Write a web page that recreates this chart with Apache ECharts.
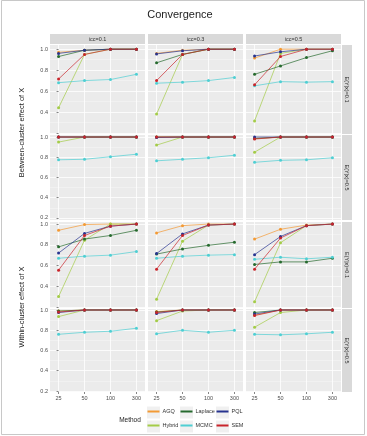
<!DOCTYPE html>
<html><head><meta charset="utf-8">
<script src="https://cdn.jsdelivr.net/npm/echarts@6/dist/echarts.min.js"></script>
<style>html,body{margin:0;padding:0;background:#fff}#c{width:367px;height:436px}</style>
</head><body><div id="c"></div>
<script>
// ---------- data ----------
const sampleSizes = ['25', '50', '100', '300'];
const iccLabels = ['icc=0.1', 'icc=0.3', 'icc=0.5'];
const conditionLabels = ['E(Y|x)=0.1', 'E(Y|x)=0.5'];
const effectLabels = ['Between-cluster effect of X', 'Within-cluster effect of X'];
const methods = ['AGQ', 'Hybrid', 'Laplace', 'MCMC', 'PQL', 'SEM'];
const methodColors = ['#F39A35', '#A4CC48', '#266A2E', '#4FCFD3', '#27338F', '#C9252B'];
const yTicks = [0.2, 0.4, 0.6, 0.8, 1.0];
const yMinorTicks = [0.3, 0.5, 0.7, 0.9];

// each: [icc=0.1, icc=0.3, icc=0.5], values for n = 25, 50, 100, 300
// Between-cluster effect, E(Y|x)=0.1
const AGQ_between01     = [[0.97, 0.99, 1.0, 1.0], [0.96, 0.99, 1.0, 1.0], [0.915, 1.0, 1.0, 1.0]];
const Hybrid_between01  = [[0.44, 0.95, 1.0, 1.0], [0.38, 0.95, 1.0, 1.0], [0.315, 0.96, 1.0, 1.0]];
const Laplace_between01 = [[0.93, 0.99, 1.0, 1.0], [0.87, 0.95, 1.0, 1.0], [0.76, 0.84, 0.92, 0.985]];
const MCMC_between01    = [[0.68, 0.70, 0.71, 0.76], [0.675, 0.685, 0.70, 0.73], [0.65, 0.69, 0.685, 0.69]];
const PQL_between01     = [[0.96, 0.99, 1.0, 1.0], [0.955, 0.985, 1.0, 1.0], [0.935, 0.975, 1.0, 1.0]];
const SEM_between01     = [[0.715, 0.95, 1.0, 1.0], [0.70, 0.95, 1.0, 1.0], [0.66, 0.93, 1.0, 1.0]];
// Between-cluster effect, E(Y|x)=0.5
const AGQ_between05     = [[1.0, 1.0, 1.0, 1.0], [1.0, 1.0, 1.0, 1.0], [0.985, 1.0, 1.0, 1.0]];
const Hybrid_between05  = [[0.95, 1.0, 1.0, 1.0], [0.92, 1.0, 1.0, 1.0], [0.85, 1.0, 1.0, 1.0]];
const Laplace_between05 = [[1.0, 1.0, 1.0, 1.0], [1.0, 1.0, 1.0, 1.0], [0.985, 1.0, 1.0, 1.0]];
const MCMC_between05    = [[0.775, 0.78, 0.805, 0.83], [0.765, 0.78, 0.795, 0.82], [0.75, 0.77, 0.775, 0.795]];
const PQL_between05     = [[1.0, 1.0, 1.0, 1.0], [0.995, 1.0, 1.0, 1.0], [1.0, 1.0, 1.0, 1.0]];
const SEM_between05     = [[1.0, 1.0, 1.0, 1.0], [1.0, 1.0, 1.0, 1.0], [0.98, 1.0, 1.0, 1.0]];
// Within-cluster effect, E(Y|x)=0.1
const AGQ_within01      = [[0.94, 0.995, 1.0, 1.0], [0.915, 0.985, 1.0, 1.0], [0.855, 0.95, 0.99, 1.0]];
const Hybrid_within01   = [[0.30, 0.845, 1.0, 1.0], [0.275, 0.835, 0.99, 1.0], [0.25, 0.82, 0.985, 1.0]];
const Laplace_within01  = [[0.78, 0.855, 0.89, 0.94], [0.71, 0.76, 0.795, 0.825], [0.61, 0.635, 0.635, 0.67]];
const MCMC_within01     = [[0.67, 0.69, 0.70, 0.735], [0.67, 0.69, 0.70, 0.705], [0.66, 0.68, 0.665, 0.68]];
const PQL_within01      = [[0.72, 0.91, 0.98, 1.0], [0.715, 0.905, 0.99, 1.0], [0.705, 0.88, 0.985, 1.0]];
const SEM_within01      = [[0.555, 0.89, 0.98, 1.0], [0.565, 0.89, 0.99, 1.0], [0.565, 0.865, 0.985, 1.0]];
// Within-cluster effect, E(Y|x)=0.5
const AGQ_within05      = [[0.99, 1.0, 1.0, 1.0], [0.985, 1.0, 1.0, 1.0], [0.95, 1.0, 1.0, 1.0]];
const Hybrid_within05   = [[0.935, 1.0, 1.0, 1.0], [0.895, 0.99, 1.0, 1.0], [0.83, 0.975, 1.0, 1.0]];
const Laplace_within05  = [[0.99, 1.0, 1.0, 1.0], [0.98, 1.0, 1.0, 1.0], [0.975, 1.0, 1.0, 1.0]];
const MCMC_within05     = [[0.76, 0.78, 0.79, 0.82], [0.765, 0.80, 0.78, 0.80], [0.76, 0.755, 0.765, 0.78]];
const PQL_within05      = [[0.975, 1.0, 1.0, 1.0], [0.965, 1.0, 1.0, 1.0], [0.96, 1.0, 1.0, 1.0]];
const SEM_within05      = [[0.98, 1.0, 1.0, 1.0], [0.975, 1.0, 1.0, 1.0], [0.945, 1.0, 1.0, 1.0]];

const panelRows = [
  [AGQ_between01, Hybrid_between01, Laplace_between01, MCMC_between01, PQL_between01, SEM_between01],
  [AGQ_between05, Hybrid_between05, Laplace_between05, MCMC_between05, PQL_between05, SEM_between05],
  [AGQ_within01, Hybrid_within01, Laplace_within01, MCMC_within01, PQL_within01, SEM_within01],
  [AGQ_within05, Hybrid_within05, Laplace_within05, MCMC_within05, PQL_within05, SEM_within05]
];

// ---------- layout ----------
const colLeft = [50, 148, 246], colW = 95;
const rowTop = [45, 135, 222, 309], rowH = [89, 85, 86, 83];
const rowMin = [0.19, 0.18, 0.19, 0.19], rowMax = [1.04, 1.02, 1.02, 1.01];
const rowLabelVals = [[0.4, 0.6, 0.8, 1.0], yTicks, [0.4, 0.6, 0.8, 1.0], yTicks];
const xIdx = sampleSizes.map((s, i) => i);
const txt = '#4D4D4D';
const fam = 'Liberation Sans, Arial, sans-serif';

const grid = [], xAxis = [], yAxis = [], series = [];
for (let r = 0; r < 4; r++) {
  for (let c = 0; c < 3; c++) {
    const gi = r * 3 + c;
    grid.push({left: colLeft[c], top: rowTop[r], width: colW, height: rowH[r], show: true,
      backgroundColor: '#EBEBEB', borderWidth: 0});
    xAxis.push({type: 'value', gridIndex: gi, min: -0.33, max: 3.33,
      axisLine: {show: false},
      axisTick: {show: r === 3, length: 2, lineStyle: {color: '#333', width: 0.6}, customValues: xIdx},
      axisLabel: {show: r === 3, customValues: xIdx, formatter: v => sampleSizes[Math.round(v)],
        fontSize: 5.5, color: txt, margin: 3, fontFamily: fam},
      splitLine: {show: true, lineStyle: {color: '#FFFFFF', width: 0.8}}});
    yAxis.push({type: 'value', gridIndex: gi, min: rowMin[r], max: rowMax[r],
      axisLine: {show: false},
      axisTick: {show: c === 0, length: 2, lineStyle: {color: '#333', width: 0.6}, customValues: yTicks},
      axisLabel: {show: c === 0, customValues: rowLabelVals[r], formatter: v => v.toFixed(1),
        fontSize: 5.5, color: txt, margin: 2, fontFamily: fam},
      splitLine: {show: true, lineStyle: {color: '#FFFFFF', width: 0.8}}});
    yAxis.push({type: 'value', gridIndex: gi, min: rowMin[r], max: rowMax[r],
      axisLine: {show: false},
      axisTick: {show: false, customValues: yMinorTicks},
      axisLabel: {show: false, customValues: yMinorTicks},
      splitLine: {show: true, lineStyle: {color: '#F6F6F6', width: 0.5}}});
    methods.forEach((m, mi) => {
      series.push({type: 'line', name: m, xAxisIndex: gi, yAxisIndex: gi * 2,
        data: panelRows[r][mi][c].map((v, i) => [i, v]),
        color: methodColors[mi], symbol: 'circle', symbolSize: 3, showSymbol: true,
        lineStyle: {width: 0.7}, itemStyle: {color: methodColors[mi]},
        emphasis: {disabled: true}, silent: true, animation: false});
    });
  }
}

// ---------- decorations ----------
const graphic = [];
graphic.push({type: 'rect', shape: {x: 1.5, y: 0.5, width: 363, height: 434},
  style: {fill: 'none', stroke: '#C8C8C8', lineWidth: 1}, silent: true});
graphic.push({type: 'text', x: 180, y: 15, style: {text: 'Convergence', fontSize: 11,
  fontFamily: fam, fill: '#222', align: 'center', verticalAlign: 'middle'}});
iccLabels.forEach((t, c) => {
  graphic.push({type: 'rect', shape: {x: colLeft[c], y: 34, width: colW, height: 10}, style: {fill: '#D9D9D9'}});
  graphic.push({type: 'text', x: colLeft[c] + colW / 2, y: 39, style: {text: t, fontSize: 5.5,
    fontFamily: fam, fill: '#333', align: 'center', verticalAlign: 'middle'}});
});
for (let r = 0; r < 4; r++) {
  graphic.push({type: 'rect', shape: {x: 342, y: rowTop[r], width: 10, height: rowH[r]}, style: {fill: '#D9D9D9'}});
  graphic.push({type: 'text', x: 347, y: rowTop[r] + rowH[r] / 2, rotation: -Math.PI / 2,
    style: {text: conditionLabels[r % 2], fontSize: 5.5, fontFamily: fam, fill: '#333',
      align: 'center', verticalAlign: 'middle'}});
}
effectLabels.forEach((t, i) => {
  const top = rowTop[i * 2], bottom = rowTop[i * 2 + 1] + rowH[i * 2 + 1];
  graphic.push({type: 'text', x: 22, y: (top + bottom) / 2, rotation: Math.PI / 2,
    style: {text: t, fontSize: 7.5, fontFamily: fam, fill: '#222', align: 'center', verticalAlign: 'middle'}});
});
graphic.push({type: 'text', x: 130, y: 420, style: {text: 'Method', fontSize: 6.5, fontFamily: fam,
  fill: '#222', align: 'center', verticalAlign: 'middle'}});

const keyX = [147, 180, 216], keyY = [412.5, 426.5];
const legend = [];
methods.forEach((m, mi) => {
  const col = Math.floor(mi / 2), row = mi % 2;
  graphic.push({type: 'rect', shape: {x: keyX[col], y: keyY[row] - 6, width: 13, height: 12},
    style: {fill: '#F0F0F0'}});
  legend.push({data: [m], left: keyX[col] + 0.5, top: keyY[row] - 4, padding: 0, orient: 'horizontal',
    itemWidth: 12, itemHeight: 2, icon: 'rect', selectedMode: false, itemGap: 0,
    textStyle: {fontSize: 5.5, color: '#333', fontFamily: fam, padding: [0, 0, 0, -2]}});
});

const chart = echarts.init(document.getElementById('c'), null, {renderer: 'canvas'});
chart.setOption({animation: false, backgroundColor: '#fff', grid, xAxis, yAxis, series, legend, graphic});
</script></body></html>
